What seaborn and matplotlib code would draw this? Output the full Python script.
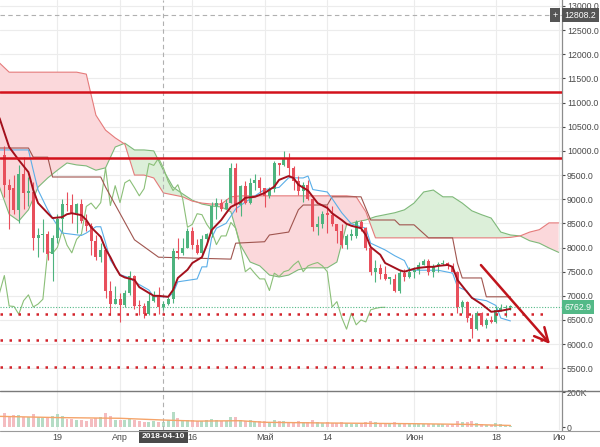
import matplotlib
matplotlib.use("Agg")
import matplotlib.pyplot as plt
import matplotlib.transforms as mtransforms
from matplotlib.lines import Line2D
import numpy as np
import pandas as pd
import seaborn as sns

# daily BTC candles, 2018-03-08 .. 2018-06-21
dates = pd.date_range("2018-03-08", "2018-06-21", freq="D")
opens = [9920, 9300, 9230, 8780, 9530, 9130, 9150, 8200, 8260, 8290, 7870, 8200, 8600, 8900, 8880, 8720,
         8900, 8550, 8450, 8140, 7800, 7950, 7100, 6840,
         6930, 6810, 7060, 7420, 6790, 6780, 6620, 6900, 7020, 6770, 6830, 6930, 7920, 7880, 8000,
         8350, 8050, 7890, 8170, 8280, 8850, 8920, 8800, 8930, 9650, 8870, 9280, 8930, 9340, 9400,
         9240, 9070, 9220, 9740, 9700, 9850, 9650, 9370, 9180, 9300, 9010, 8420, 8480, 8700, 8680,
         8480, 8340, 8060, 8240, 8240, 8520, 8400, 8000, 7500, 7580, 7460, 7350, 7350, 7110, 7470, 7400,
         7500, 7530, 7640, 7720, 7500, 7620, 7660, 7690, 7620, 7500, 6770, 6880, 6550, 6310, 6640,
         6400, 6500, 6460, 6710, 6740, 6760]
highs = [10100, 9420, 9500, 9700, 9880, 9450, 9350, 8400, 8600, 8350, 8250, 8700, 9000, 9150, 9100, 8920,
         9000, 8700, 8500, 8250, 8100, 7980, 7300, 7200,
         7050, 7120, 7520, 7430, 6920, 6860, 7050, 7100, 7180, 6900, 6970, 8000, 8200, 8200, 8400,
         8420, 8180, 8250, 8300, 8950, 9030, 9000, 9000, 9750, 9760, 9300, 9380, 9440, 9520, 9460,
         9240, 9250, 9800, 9750, 9990, 9950, 9680, 9480, 9350, 9400, 9020, 8650, 8750, 8880, 8850,
         8490, 8480, 8270, 8380, 8580, 8560, 8420, 8020, 7740, 7660, 7620, 7400, 7450, 7540, 7560,
         7600, 7600, 7700, 7770, 7760, 7650, 7700, 7750, 7700, 7690, 7510, 6920, 6900, 6620, 6680,
         6660, 6550, 6580, 6790, 6830, 6800, 6800]
lows = [9050, 8380, 8700, 8500, 8800, 8850, 7950, 7800, 7900, 7750, 7300, 8100, 8350, 8750, 8500, 8300,
        8500, 8350, 7850, 7750, 7700, 6950, 6600, 6830,
        6450, 6770, 7020, 6720, 6600, 6550, 6600, 6880, 6620, 6700, 6820, 6860, 7760, 7840, 7990,
        7960, 7860, 7860, 8120, 8220, 8600, 8750, 8800, 8930, 8730, 8650, 8910, 8900, 9200, 9130,
        8840, 9020, 9150, 9500, 9690, 9450, 9200, 9080, 8950, 8990, 8350, 8250, 8400, 8300, 8450,
        8100, 8000, 7960, 8160, 8200, 8340, 7950, 7430, 7280, 7340, 7330, 7250, 7080, 7060, 7300,
        7370, 7360, 7460, 7630, 7440, 7400, 7500, 7630, 7560, 7500, 6650, 6640, 6460, 6130, 6300,
        6380, 6340, 6440, 6440, 6680, 6560, 6700]
closes = [9300, 9200, 8780, 9530, 9130, 9150, 8200, 8260, 8290, 7870, 8200, 8600, 8900, 8880, 8720, 8900,
          8550, 8450, 8140, 7800, 7950, 7100, 6840, 6930,
          6810, 7060, 7420, 6790, 6780, 6620, 6900, 7020, 6770, 6830, 6930, 7920, 7880, 8000, 8350,
          8050, 7890, 8170, 8280, 8850, 8920, 8800, 8930, 9650, 8870, 9280, 8930, 9340, 9400, 9240,
          9070, 9220, 9740, 9700, 9850, 9650, 9370, 9180, 9300, 9010, 8420, 8480, 8700, 8680, 8480,
          8340, 8060, 8240, 8240, 8520, 8400, 8000, 7500, 7580, 7460, 7350, 7350, 7110, 7470, 7400, 7500,
          7530, 7640, 7720, 7500, 7620, 7660, 7690, 7620, 7500, 6770, 6880, 6550, 6310, 6640, 6400,
          6500, 6460, 6710, 6740, 6760, 6762.9]
volume_k = [78, 62, 70, 66, 58, 55, 72, 60, 50, 52, 62, 74, 65, 48, 45, 42, 40, 36, 45, 50, 58, 82, 62, 40,
            38, 42, 48, 40, 34, 30, 28, 32, 28, 30, 38, 88, 52, 34, 42, 40, 32, 36, 40, 48, 42, 34, 36,
            60, 55, 42, 36, 38, 30, 34,
            34, 30, 40, 36, 32, 26, 30, 32, 26, 28, 40, 30, 22, 26, 24, 22, 28, 22, 18, 20, 22, 26, 34,
            28, 22, 16, 18, 28, 24, 20, 22,
            18, 16, 18, 20, 18, 16, 18, 14, 16, 36, 28, 26, 34, 24, 18, 12, 10, 22, 18, 14, 6]

# indicator lines (day 0 = 2018-04-01)
ma_day = [-25, -23, -21, -19, -18, -17, -15, -14, -12, -11, -10, -8, -7, -6, -4, -3, -2, -1, 0, 1,
          3, 4, 6, 7, 8, 10, 11, 12, 14, 15, 17, 18, 19, 21, 22, 23, 25, 26, 28, 29,
          30, 32, 33, 35, 36, 37, 39, 40, 41, 43, 44, 46, 47, 48, 50, 51, 52, 54, 55, 57,
          58, 59, 61, 62, 64, 65, 66, 68, 69, 70, 72, 73, 75, 76, 77, 79, 80, 81]
ma_val = [10680, 10080, 9810, 9560, 9190, 8920, 8710, 8610, 8630, 8690, 8710, 8670, 8570, 8420, 8220,
          7970, 7800, 7600, 7430, 7380, 7330, 7180, 7060, 7000, 7000, 6980, 7120, 7370, 7540, 7680,
          7800, 8050, 8360, 8570, 8710, 8840, 8940, 9030, 9050, 9090, 9130, 9260, 9400, 9480, 9440,
          9300, 9180, 9050, 8920, 8820, 8710, 8570, 8490, 8450, 8400, 8260, 8010, 7850, 7680, 7580,
          7530, 7500, 7560, 7580, 7600, 7600, 7620, 7640, 7600, 7330, 7080, 6960, 6830, 6750, 6670,
          6690, 6710, 6730]
conv_day = [-25, -19, -18, -17, -15, -14, -12, -8, -7, -5, -4, -3, -2, 0, 2, 3, 6, 7, 10, 11, 12, 16,
            17, 18, 19, 20, 22, 24, 26, 30, 33, 35, 38, 39, 40, 43, 44, 46, 48, 51, 52, 55, 57, 59,
            60, 66, 69, 70, 72, 73, 76, 78, 79, 81]
conv_val = [10020, 10020, 9600, 9190, 8780, 8610, 8300, 8250, 8300, 8430, 8430, 8100, 7740, 7440,
            7370, 7290, 7120, 6980, 6980, 7050, 7290, 7350, 7600, 7600, 8200, 8400, 8500, 8800, 8940,
            9200, 9245, 9445, 9440, 9480, 9200, 9150, 9015, 8720, 8490, 8400, 8090, 7950, 7830, 7730,
            7530, 7530, 7470, 7190, 7100, 6950, 6900, 6800, 6540, 6480]
base_day = [-25, -19, -18, -15, -14, -4, -3, 3, 8, 23, 24, 30, 31, 35, 37, 38, 43, 44, 50, 52, 57, 58,
            61, 64, 69, 70, 71, 75, 76, 81]
base_val = [10060, 10060, 9870, 9870, 9460, 9460, 9250, 8160, 7800, 7760, 8090, 8120, 8260, 8320,
            8780, 8880, 8880, 9050, 9050, 8570, 8570, 8470, 8470, 8200, 8200, 7680, 7370, 7370, 6980,
            6980]
cloud_day = list(range(-25, 92, 2))
lead1 = [9250, 8690, 8550, 8780, 9250, 9440, 9600, 9750, 9710, 9690, 9600, 9650, 10080,
         10160, 10020, 10020, 10000, 9600, 9250, 9110, 8980, 8900, 8860, 8840, 8740,
         8050, 7700, 7620, 7430, 7390, 7430, 7540, 7580, 7580, 7580, 7700, 8470,
         8530, 8570, 8640, 8680, 8720, 8780, 8920, 9150, 9190, 9050, 9050, 8920,
         8760, 8680, 8610, 8320, 8260, 8240, 8140, 8090, 7990, 7900]
lead2 = [11820, 11630, 11630, 11630, 11630, 11630, 11630, 11630, 11630, 11590, 10740, 10430, 10270,
         10140, 9500, 9500, 9440, 9130, 9090, 9050, 8960, 8920, 8900, 8900, 9050,
         9070, 9070, 9070, 9070, 9070, 9070, 9070, 9070, 9070, 9070, 9070, 9070,
         9050, 8740, 8200, 8200, 8200, 8200, 8200, 8200, 8200, 8200, 8200, 8200,
         8200, 8200, 8200, 8200, 8210, 8240, 8320, 8370, 8510, 8510]
vol_ma_day = [-25, -13, 0, 9, 16, 25, 30, 43, 61, 72, 81]
vol_ma_k = [61, 54, 50, 40, 34, 36, 27, 23, 19, 15, 9]

resistance = [11210, 9850]
supports = [6620, 6080, 5520]
last_price = 6762.9
cursor_price = 12808.2
cursor_day = "2018-04-10"

tick_dates = ["2018-03-19", "2018-04-01", "2018-04-16", "2018-05-01", "2018-05-14",
              "2018-06-01", "2018-06-18", "2018-07-01"]
tick_labels = ["19", "Апр", "16", "Май", "14", "Июн", "18", "Ию"]

sns.set_style("white")
plt.rcParams["font.family"] = ["Liberation Sans", "DejaVu Sans"]

origin = pd.Timestamp("2018-04-01")
df = pd.DataFrame({"day": (dates - origin).days, "open": opens, "high": highs,
                   "low": lows, "close": closes, "vol": np.array(volume_k) * 1000})
df["lag_day"] = df["day"] - 26
tick_days = [(pd.Timestamp(t) - origin).days for t in tick_dates]
cur_d = (pd.Timestamp(cursor_day) - origin).days

UP, DN = "#4db37e", "#e84f5c"
TXT = "#4a4a4a"
W, H = 600, 447
fig = plt.figure(figsize=(6, 4.47), dpi=100)
ax = fig.add_axes([0, 1 - 391 / H, 562 / W, 391 / H])
axv = fig.add_axes([0, 1 - 430 / H, 562 / W, 39 / H], sharex=ax)

# cloud
l1, l2 = np.array(lead1), np.array(lead2)
ax.fill_between(cloud_day, l1, l2, where=l1 >= l2, interpolate=True, color="#dcefd9", lw=0, zorder=1)
ax.fill_between(cloud_day, l1, l2, where=l1 < l2, interpolate=True, color="#fbd8db", lw=0, zorder=1)
sns.lineplot(x=cloud_day, y=lead1, ax=ax, color="#7fb97a", lw=0.8, zorder=2)
sns.lineplot(x=cloud_day, y=lead2, ax=ax, color="#e57b7b", lw=0.8, zorder=2)

# ichimoku lines
sns.lineplot(data=df, x="lag_day", y="close", ax=ax, color="#8bbf78", lw=0.8, zorder=2)
sns.lineplot(x=base_day, y=base_val, ax=ax, color="#a0554f", lw=0.8, zorder=2)
sns.lineplot(x=conv_day, y=conv_val, ax=ax, color="#5aaee8", lw=0.8, zorder=3)

# candles
up = df["close"] >= df["open"]
cols = np.where(up, UP, DN)
ax.vlines(df["day"], df["low"], df["high"], colors=cols, lw=0.8, zorder=4)
body = np.maximum((df["close"] - df["open"]).abs(), 30)
ax.bar(df["day"], body, bottom=np.minimum(df["open"], df["close"]), width=0.62,
       color=cols, lw=0, zorder=5)

sns.lineplot(x=ma_day, y=ma_val, ax=ax, color="#a3101c", lw=1.4, zorder=6)

# levels
for lvl in resistance:
    ax.axhline(lvl, color="#d3121c", lw=1.8, zorder=7)
for lvl in supports:
    ax.hlines(lvl, -25, 88.5, color="#d3232b", lw=1.8, ls=(0, (1, 2.6)), zorder=7)
ax.axhline(last_price, color="#53b987", lw=0.8, ls=(0, (1, 1.5)), zorder=3)
ax.axhline(cursor_price, color="#b0b0b0", lw=0.8, ls=(0, (4, 3)), zorder=3)
ax.axvline(cur_d, color="#b0b0b0", lw=0.8, ls=(0, (4, 3)), zorder=3)
axv.axvline(cur_d, color="#b0b0b0", lw=0.8, ls=(0, (4, 3)), zorder=3)

ax.annotate("", xy=(89.6, 5960), xytext=(74.5, 7680), zorder=8,
            arrowprops=dict(arrowstyle="->,head_length=0.7,head_width=0.35",
                            color="#c0141c", lw=1.8, mutation_scale=14))

# volume
axv.bar(df["day"], df["vol"], width=0.62, color=np.where(up, "#b5dcc5", "#f4bcc0"), lw=0, zorder=2)
sns.lineplot(x=vol_ma_day, y=np.array(vol_ma_k) * 1000, ax=axv, color="#f5a46a", lw=1.0, zorder=3)

# axes styling
ax.set_xlim(-24.9, 91.7)
ax.set_ylim(5030, 13124)
axv.set_ylim(-17000, 206000)
yt = list(range(5500, 13001, 500))
ax.yaxis.tick_right()
ax.set_yticks(yt)
ax.set_yticklabels([f"{v:.1f}" for v in yt])
ax.tick_params(axis="y", length=2, pad=1.5, labelsize=6.3, colors=TXT)
ax.tick_params(axis="x", length=0, labelbottom=False)
axv.yaxis.tick_right()
axv.set_yticks([0, 200000])
axv.set_yticklabels(["0", "200K"])
axv.tick_params(axis="y", length=2, pad=1.5, labelsize=6.3, colors=TXT)
axv.set_xticks(tick_days)
axv.set_xticklabels(tick_labels)
axv.tick_params(axis="x", length=0, pad=2.5, labelsize=6.5, colors=TXT)
for a in (ax, axv):
    a.set_xlabel("")
    a.set_ylabel("")
    a.grid(True, color="#ececec", lw=0.8, zorder=0)
    a.set_axisbelow(True)
    for s in ("top", "left", "bottom"):
        a.spines[s].set_visible(False)
    a.spines["right"].set_color("#8c8c8c")
    a.spines["right"].set_linewidth(0.9)
axv.grid(False, axis="y")

fig.add_artist(Line2D([0, 1], [1 - 391 / H] * 2, color="#7a7a7a", lw=1.0))
fig.add_artist(Line2D([0, 1], [1 - 430.5 / H] * 2, color="#9a9a9a", lw=0.8))

# price / date tags
bt = mtransforms.blended_transform_factory(ax.transAxes, ax.transData)
ax.text(1.004, last_price, f"{last_price:.1f}", transform=bt, ha="left", va="center", fontsize=6.3,
        color="white", bbox=dict(boxstyle="square,pad=0.3", fc="#53b987", ec="none"), clip_on=False, zorder=9)
ax.text(1.004, cursor_price, f"{cursor_price:.1f}", transform=bt, ha="left", va="center", fontsize=6.3,
        color="white", bbox=dict(boxstyle="square,pad=0.3", fc="#555555", ec="none"), clip_on=False, zorder=9)
ax.text(0.988, cursor_price, "+", transform=bt, ha="center", va="center", fontsize=6.5,
        color="white", bbox=dict(boxstyle="square,pad=0.25", fc="#555555", ec="none"), zorder=9)
bv = mtransforms.blended_transform_factory(axv.transData, axv.transAxes)
axv.text(cur_d, -0.16, cursor_day, transform=bv, ha="center", va="center", fontsize=6.0,
         fontweight="bold", color="white", bbox=dict(boxstyle="square,pad=0.35", fc="#4a4a4a", ec="none"),
         clip_on=False, zorder=9)

fig.savefig("out.png", dpi=100, facecolor="white")
